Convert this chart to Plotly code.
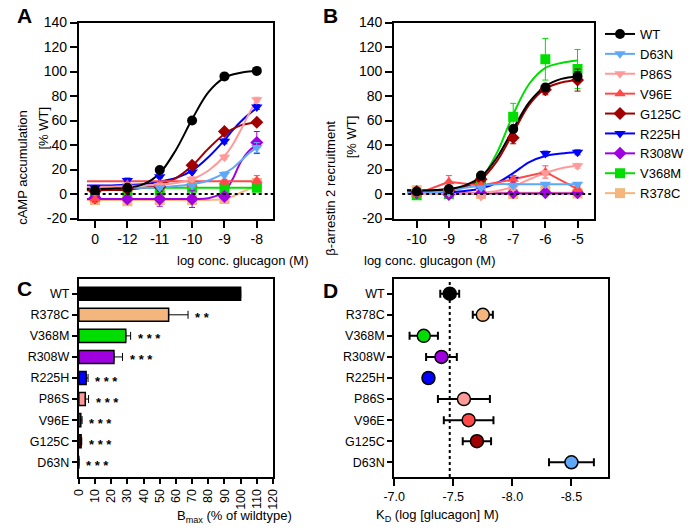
import plotly.graph_objects as go

W, H = 690, 530
FONT = "Liberation Sans, Arial, sans-serif"

# ---- series definitions ----
mutants = ["WT", "D63N", "P86S", "V96E", "G125C", "R225H", "R308W", "V368M", "R378C"]
colors = {"WT": "#000000", "D63N": "#5FA8F8", "P86S": "#FF9A9A", "V96E": "#FF4848",
          "G125C": "#A00000", "R225H": "#0000FF", "R308W": "#A000E0",
          "V368M": "#00DD00", "R378C": "#F4B67C"}
symbols = {"WT": "circle", "D63N": "triangle-down", "P86S": "triangle-down",
           "V96E": "triangle-up", "G125C": "diamond", "R225H": "triangle-down",
           "R308W": "diamond", "V368M": "square", "R378C": "square"}

# ---- panel A: cAMP accumulation ----
camp_x = [-13, -12, -11, -10, -9, -8]
camp_xlabels = ["0", "-12", "-11", "-10", "-9", "-8"]
camp_mean = {
    "WT": [3, 5, 19.6, 60, 96, 100.5],
    "D63N": [3, 5, 5, 7, 16, 38],
    "P86S": [2, 7, 7, 12, 30, 77],
    "V96E": [-4, 8, 8, 8, 10, 11],
    "G125C": [2, 4, 6, 23.5, 51, 58.5],
    "R225H": [5, 11, 14, 18, 43, 71],
    "R308W": [-3, -4, -4, -4, -2, 42],
    "V368M": [1, 2, 3, 5, 4, 5],
    "R378C": [-5, -6, -5, -5, -4, 9],
}
camp_err = {
    "WT": [1, 1, 1, 1, 1, 1],
    "D63N": [1, 1, 1, 1, 2, 4],
    "P86S": [2, 2, 2, 2, 2, 2],
    "V96E": [3, 1, 1, 1, 2, 4],
    "G125C": [1, 1, 1, 1, 1, 1],
    "R225H": [1, 2, 1, 1, 2, 2],
    "R308W": [2, 2, 6, 7, 2, 9],
    "V368M": [1, 1, 1, 1, 1, 1],
    "R378C": [3, 3, 3, 3, 2, 2],
}
camp_fit_x = [-13.25, -12.5, -12, -11.5, -11, -10.5, -10, -9.5, -9, -8.75, -8.5, -8.25, -8]
camp_fit = {
    "WT": [4, 4.3, 5, 8, 17, 36, 61, 83, 95, 97.5, 99, 100, 100.5],
    "D63N": [4.5, 4.5, 5, 5, 5.5, 6.5, 8, 11, 17, 21, 27, 33, 38],
    "P86S": [6, 6, 6.5, 7, 7.5, 9, 12, 19, 31, 40, 52, 65, 77],
    "V96E": [10.5, 10.5, 10.5, 10.5, 10.5, 10.5, 10.5, 10.5, 10.5, 10.5, 10.5, 10.5, 10.5],
    "G125C": [3, 3.2, 3.5, 5, 8, 13, 23, 37, 49, 53, 56, 57.5, 58.5],
    "R225H": [7, 7, 7.5, 8, 10, 13, 19, 30, 44, 52, 59, 65, 70],
    "R308W": [-4, -4, -4, -4, -4, -4, -4, -3.5, 2, 12, 26, 35, 40],
    "V368M": [5.2, 5.2, 5.2, 5.2, 5.2, 5.2, 5.2, 5.2, 5.2, 5.2, 5.2, 5.2, 5.2],
    "R378C": [-5, -5, -5, -5, -5, -5, -5, -4.8, -4, -2, 1, 4, 7],
}

# ---- panel B: beta-arrestin 2 recruitment ----
arr_x = [-10, -9, -8, -7, -6, -5]
arr_xlabels = ["-10", "-9", "-8", "-7", "-6", "-5"]
arr_mean = {
    "WT": [2, 4, 15, 53, 87, 96],
    "D63N": [1, 2, 5, 7, 8, 8],
    "P86S": [2, 1, -2, 5, 17, 23],
    "V96E": [0, 10, 7, 12, 18, 4],
    "G125C": [2, 3, 12, 46, 85, 93],
    "R225H": [1, 1, 5, 12, 33, 34],
    "R308W": [1, -0.5, 0.5, 1, 1, 1],
    "V368M": [-1, 0, 12, 63, 110, 102],
    "R378C": [3, 1, 0, 0, 3, 0.5],
}
arr_err = {
    "WT": [1, 1, 2, 3, 2, 4],
    "D63N": [1, 1, 1, 1, 1, 1],
    "P86S": [1, 1, 1, 2, 2, 2],
    "V96E": [2, 5, 2, 3, 5, 2],
    "G125C": [1, 1, 2, 5, 4, 9],
    "R225H": [1, 1, 1, 3, 2, 2],
    "R308W": [1, 1, 1, 1, 1, 1],
    "V368M": [1, 1, 2, 11, 17, 16],
    "R378C": [2, 1, 1, 1, 1, 1],
}
arr_fit_x = [-10.3, -9.5, -9, -8.5, -8, -7.5, -7, -6.5, -6, -5.5, -5]
arr_fit = {
    "WT": [3, 3, 4, 7, 14, 30, 53, 75, 88, 94, 96],
    "D63N": [1, 1.5, 2.5, 5, 7, 8, 8, 8, 8, 8, 8],
    "P86S": [0, 0, 0, 0.3, 1, 2.5, 6, 12, 17, 21, 23],
    "G125C": [3, 3, 4, 6, 12, 27, 50, 73, 86, 91, 93],
    "R225H": [1, 1, 1.5, 2.5, 4.5, 9, 17, 26, 31, 33, 34],
    "R308W": [0.5, 0.5, 0.5, 0.5, 0.5, 0.5, 0.5, 0.5, 0.5, 0.5, 0.5],
    "V368M": [2, 2, 3, 6, 13, 34, 65, 90, 103, 107, 109],
    "R378C": [1, 1, 1, 1, 1, 1, 1, 1, 1, 1, 1],
}
arr_straight = ["V96E"]

# ---- panel C: Bmax ----
order_cd = ["WT", "R378C", "V368M", "R308W", "R225H", "P86S", "V96E", "G125C", "D63N"]
bmax = [100, 55.5, 29, 21.7, 4.5, 4, 1.2, 1.4, 0]
bmax_err = [0, 12, 3, 5.3, 1.2, 2, 0.8, 0.4, 0]
bmax_sig = ["", "* *", "* * *", "* * *", "* * *", "* * *", "* * *", "* * *", "* * *"]

# ---- panel D: KD ----
kd = [-7.47, -7.75, -7.25, -7.40, -7.29, -7.59, -7.63, -7.70, -8.50]
kd_err = [0.08, 0.085, 0.12, 0.13, 0.0, 0.22, 0.21, 0.12, 0.19]

yticks_ab = [-20, 0, 20, 40, 60, 80, 100, 120, 140]
yticks_ab_text = ["-20", "0", "20", "40", "60", "80", "100", "120", "140"]
xticks_d = [-7.0, -7.5, -8.0, -8.5]
xticks_d_text = ["-7.0", "-7.5", "-8.0", "-8.5"]


def px(x):
    return x / W


def py(y):
    return 1 - y / H


fig = go.Figure()

# legend entries (panel B)
for m in mutants:
    fig.add_trace(go.Scatter(
        x=[None], y=[None], mode="lines+markers", name=m, xaxis="x2", yaxis="y2",
        line=dict(color=colors[m], width=2),
        marker=dict(symbol=symbols[m], color=colors[m], size=10)))

# panel A
for m in reversed(mutants):
    fig.add_trace(go.Scatter(
        x=camp_fit_x, y=camp_fit[m], mode="lines", line=dict(color=colors[m], width=2, shape="spline"),
        showlegend=False, hoverinfo="skip", xaxis="x", yaxis="y"))
for m in reversed(mutants):
    fig.add_trace(go.Scatter(
        x=camp_x, y=camp_mean[m], mode="markers", showlegend=False, xaxis="x", yaxis="y",
        marker=dict(symbol=symbols[m], color=colors[m], size=10),
        error_y=dict(type="data", array=camp_err[m], color=colors[m], thickness=1, width=3)))

# panel B
for m in reversed(mutants):
    if m in arr_straight:
        fig.add_trace(go.Scatter(
            x=arr_x, y=arr_mean[m], mode="lines", line=dict(color=colors[m], width=2),
            showlegend=False, hoverinfo="skip", xaxis="x2", yaxis="y2"))
    else:
        fig.add_trace(go.Scatter(
            x=arr_fit_x, y=arr_fit[m], mode="lines", line=dict(color=colors[m], width=2, shape="spline"),
            showlegend=False, hoverinfo="skip", xaxis="x2", yaxis="y2"))
for m in reversed(mutants):
    fig.add_trace(go.Scatter(
        x=arr_x, y=arr_mean[m], mode="markers", showlegend=False, xaxis="x2", yaxis="y2",
        marker=dict(symbol=symbols[m], color=colors[m], size=10),
        error_y=dict(type="data", array=arr_err[m], color=colors[m], thickness=1, width=3)))

# panel C
fig.add_trace(go.Bar(
    x=bmax, y=order_cd, orientation="h", width=0.62, showlegend=False, xaxis="x3", yaxis="y3",
    marker=dict(color=[colors[m] for m in order_cd], line=dict(color="black", width=1.5)),
    error_x=dict(type="data", symmetric=False, array=bmax_err, arrayminus=[0] * len(bmax),
                 color="black", thickness=1, width=4)))

# panel D
fig.add_trace(go.Scatter(
    x=kd, y=order_cd, mode="markers", showlegend=False, xaxis="x4", yaxis="y4",
    marker=dict(color=[colors[m] for m in order_cd], size=13, line=dict(color="black", width=1.5)),
    error_x=dict(type="data", array=kd_err, color="black", thickness=2, width=4)))

axis = dict(showline=True, linecolor="black", linewidth=2, mirror=True, ticks="outside",
            ticklen=7, tickwidth=2, tickcolor="black", showgrid=False, zeroline=False,
            automargin=False, tickfont=dict(family=FONT, size=14, color="black"))
axis_cd = dict(axis, ticklen=5, tickfont=dict(family=FONT, size=12.5, color="black"))

fig.update_layout(
    template="none",
    width=W, height=H, autosize=False, margin=dict(l=0, r=0, t=0, b=0),
    paper_bgcolor="white", plot_bgcolor="white",
    font=dict(family=FONT, size=13, color="black"),
    xaxis=dict(axis, domain=[px(80), px(277)], anchor="y", range=[-13.5, -7.5],
               tickvals=camp_x, ticktext=camp_xlabels),
    yaxis=dict(axis, domain=[py(218.5), py(22.5)], anchor="x", range=[-20, 140],
               tickvals=yticks_ab, ticktext=yticks_ab_text),
    xaxis2=dict(axis, domain=[px(400), px(603)], anchor="y2", range=[-10.7, -4.48],
                tickvals=arr_x, ticktext=arr_xlabels),
    yaxis2=dict(axis, domain=[py(218.5), py(22.5)], anchor="x2", range=[-20, 140],
                tickvals=yticks_ab, ticktext=yticks_ab_text),
    xaxis3=dict(axis_cd, domain=[px(80), px(277)], anchor="y3", range=[0, 120],
                tickvals=list(range(0, 121, 10)), tickangle=-90),
    yaxis3=dict(axis_cd, domain=[py(477), py(279)], anchor="x3", type="category",
                categoryorder="array", categoryarray=order_cd, range=[8.7, -0.7]),
    xaxis4=dict(axis_cd, ticklen=7, domain=[px(400), px(617)], anchor="y4", range=[-7.0, -8.81],
                tickvals=xticks_d, ticktext=xticks_d_text),
    yaxis4=dict(axis_cd, domain=[py(477), py(279)], anchor="x4", type="category",
                categoryorder="array", categoryarray=order_cd, range=[8.7, -0.7]),
    legend=dict(x=px(609), y=py(19), xanchor="left", yanchor="top", itemwidth=30,
                font=dict(family=FONT, size=13, color="black"), bgcolor="rgba(0,0,0,0)"),
    shapes=[
        dict(type="line", xref="x domain", yref="y", x0=0.03, x1=1, y0=0, y1=0,
             line=dict(color="black", width=2, dash="dot")),
        dict(type="line", xref="x2 domain", yref="y2", x0=0.04, x1=1, y0=0, y1=0,
             line=dict(color="black", width=2, dash="dot")),
        dict(type="line", xref="x4", yref="y4 domain", x0=kd[0], x1=kd[0], y0=0, y1=1,
             line=dict(color="black", width=2, dash="dot"), layer="below"),
    ],
)

ann = []
# panel letters (top edge of the text box)
for letter, x, y in [("A", 15, 2), ("B", 335, 2), ("C", 15, 275), ("D", 335, 277)]:
    ann.append(dict(text="<b>%s</b>" % letter, x=px(x), y=py(y), xref="paper", yref="paper",
                    yanchor="top", showarrow=False, font=dict(size=21, family=FONT)))
# axis titles
titles = [
    ("log conc. glucagon (M)", 178, 260, 0),
    ("log conc. glucagon (M)", 505, 260, 0),
    ("cAMP accumulation", 13, 108, -90),
    ("[% WT]", 35, 104, -90),
    ("β-arrestin 2 recruitment", 335, 119, -90),
    ("[% WT]", 357, 113, -90),
    ("B<sub>max</sub> (% of wildtype)", 178, 527, 0),
    ("K<sub>D</sub> (log [glucagon] M)", 508, 526, 0),
]
for t, x, y, a in titles:
    ann.append(dict(text=t, x=px(x), y=py(y), xref="paper", yref="paper", textangle=a,
                    showarrow=False, font=dict(size=13, family=FONT)))
# significance stars
for m, v, e, s in zip(order_cd, bmax, bmax_err, bmax_sig):
    if s:
        ann.append(dict(text="<b>%s</b>" % s, x=v + e, y=m, xref="x3", yref="y3", xanchor="left",
                        xshift=5, yshift=-3, showarrow=False, font=dict(size=13, family=FONT)))
fig.update_layout(annotations=ann)

# the page has a default 8px body margin; drop it so the figure sits at 0,0
fig.write_html("out.html", config={"displayModeBar": False},
               post_script="document.body.style.margin='0px';")
